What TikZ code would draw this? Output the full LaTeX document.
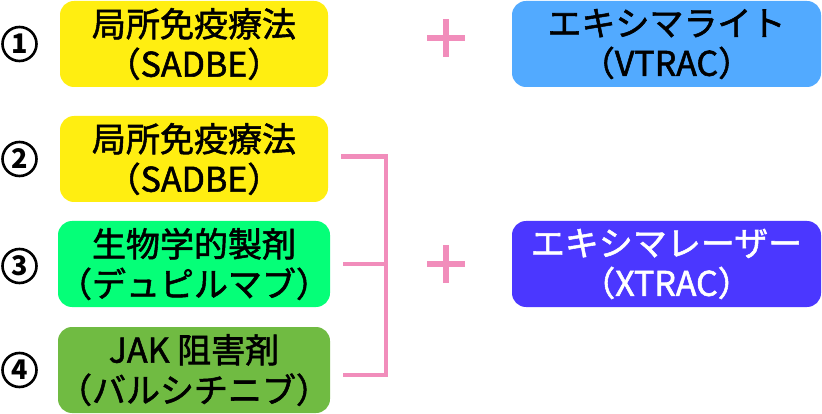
\documentclass[tikz,border=0pt]{standalone}
\usepackage{fontspec}
\newfontfamily\jpfont[FakeBold=1.6]{Noto Sans CJK JP}
\newfontfamily\numfont{Noto Sans CJK JP}
\definecolor{cyellow}{HTML}{FFEE11}
\definecolor{cgreen}{HTML}{05FF78}
\definecolor{colive}{HTML}{70BB42}
\definecolor{cblue}{HTML}{52AAFF}
\definecolor{cviolet}{HTML}{4B37FF}
\definecolor{cpink}{HTML}{F18DBB}
\tikzset{
  box/.style={rounded corners=14pt, minimum height=86pt, inner sep=0pt,
    align=center, font=\jpfont\fontsize{34}{40}\selectfont},
  leftbox/.style={box, minimum width=268pt},
  rightbox/.style={box, minimum width=309pt},
  num/.style={circle, draw=black, line width=2.6pt, minimum size=34pt,
    inner sep=0pt, font=\numfont\bfseries\fontsize{27}{27}\selectfont},
  link/.style={draw=cpink, line width=4.6pt},
  plusbar/.style={draw=cpink, line width=6pt},
}
\begin{document}
\begin{tikzpicture}[x=1pt,y=-1pt]
\useasboundingbox (0,0) rectangle (822,414);
% left column
\node[leftbox, fill=cyellow] (b1) at (194,44) {局所免疫療法\\（SADBE）};
\node[leftbox, fill=cyellow] (b2) at (194,159) {局所免疫療法\\（SADBE）};
\node[leftbox, fill=cgreen] (b3) at (194,264) {生物学的製剤\\（デュピルマブ）};
\node[leftbox, fill=colive] (b4) at (194,370) {JAK 阻害剤\\（バルシチニブ）};
% right column
\node[rightbox, fill=cblue] (r1) at (666.5,44) {エキシマライト\\（VTRAC）};
\node[rightbox, fill=cviolet, text=white] (r2) at (666.5,264) {エキシマレーザー\\（XTRAC）};
% numbers
\node[num] (n1) at (19.5,44) {1};
\node[num] (n2) at (19.5,159) {2};
\node[num] (n3) at (19.5,266) {3};
\node[num] (n4) at (19.5,370) {4};
% bracket
\coordinate (t2) at ([xshift=13pt,yshift=2.5pt]b2.east);
\coordinate (t3) at ([xshift=13pt]b3.east);
\coordinate (t4) at ([xshift=13pt,yshift=-5pt]b4.east);
\coordinate (v3) at (385.8,264);
\draw[link] (t2) -| (v3) |- (t4);
\draw[link] (t3) -- (v3);
% plus signs
\coordinate (p1) at (446,38);
\coordinate (p2) at (446,264);
\foreach \p in {p1,p2}{
  \draw[plusbar] ([xshift=-19pt]\p) -- ([xshift=19pt]\p);
  \draw[plusbar] ([yshift=-19pt]\p) -- ([yshift=19pt]\p);
}
\end{tikzpicture}
\end{document}
